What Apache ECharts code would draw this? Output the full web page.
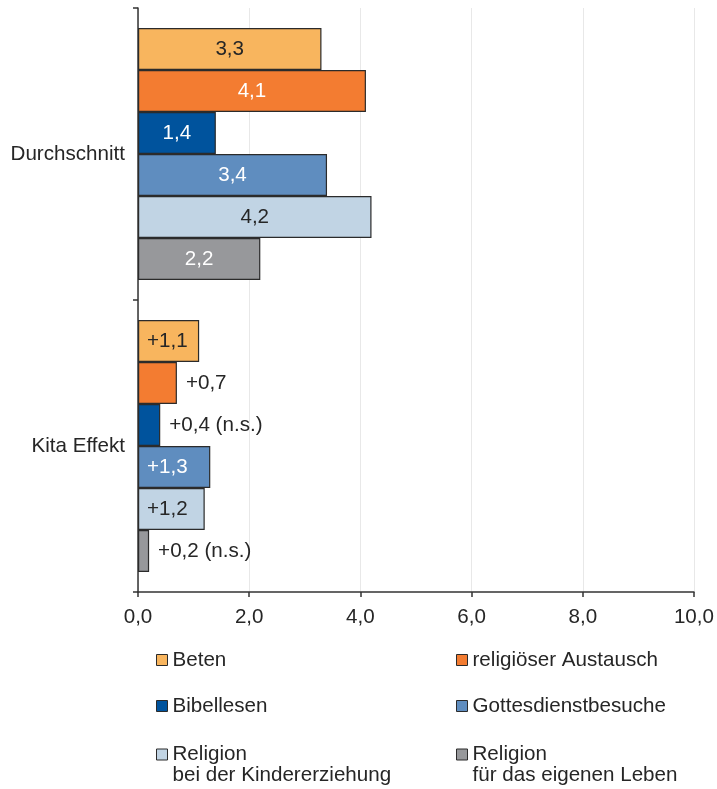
<!DOCTYPE html>
<html>
<head>
<meta charset="utf-8">
<script src="https://cdn.jsdelivr.net/npm/echarts@6/dist/echarts.min.js"></script>
<style>
  html, body { margin: 0; padding: 0; background: #fff; }
  #chart { width: 717px; height: 789px; }
</style>
</head>
<body>
<div id="chart"></div>
<script>
// Categories on the vertical axis (top to bottom)
const categories = ['Durchschnitt', 'Kita Effekt'];

// Series names (legend text)
const seriesNames = [
  'Beten',
  'religiöser Austausch',
  'Bibellesen',
  'Gottesdienstbesuche',
  'Religion\nbei der Kindererziehung',
  'Religion\nfür das eigenen Leben'
];

// Average values per series
const averageValues = [3.3, 4.1, 1.4, 3.4, 4.2, 2.2];
// Kita effect per series
const kitaEffectValues = [1.1, 0.7, 0.4, 1.3, 1.2, 0.2];
// Whether the Kita effect is statistically significant
const kitaSignificant = [true, true, false, true, true, false];

// X axis ticks
const xMin = 0, xMax = 10, xStep = 2;

const colors = ['#F8B55E', '#F37C31', '#00539D', '#5F8DBF', '#C1D4E4', '#97989B'];
const insideLabelColors = ['#262626', '#ffffff', '#ffffff', '#ffffff', '#262626', '#ffffff'];

const FONT = "'Liberation Sans', Arial, sans-serif";
const FS = 20.6;
const TEXT = '#262626';

const fmt = v => v.toFixed(1).replace('.', ',');

const series = seriesNames.map((name, i) => {
  const kv = kitaEffectValues[i];
  const inside = kv >= 1;
  const kitaLabel = '+' + fmt(kv) + (kitaSignificant[i] ? '' : ' (n.s.)');
  return {
    name,
    type: 'bar',
    barWidth: 42,
    barGap: '0%',
    itemStyle: { color: colors[i], borderColor: '#2b2b2b', borderWidth: 1.2 },
    label: { show: true, fontFamily: FONT, fontSize: FS },
    data: [
      {
        value: averageValues[i],
        label: { position: 'inside', color: insideLabelColors[i], formatter: p => fmt(p.value) }
      },
      {
        value: kv,
        label: inside
          ? { position: 'insideLeft', distance: 9, color: insideLabelColors[i], formatter: () => kitaLabel }
          : { position: 'right', distance: 9, color: TEXT, formatter: () => kitaLabel }
      }
    ]
  };
});

// One legend block per series, laid out as two columns and three rows.
// Two-line names get a leading blank line so the swatch sits beside the first line.
const legendLeft = [156, 456];
const legendTop = [649, 695, 723];
const legends = seriesNames.map((name, i) => {
  const row = Math.floor(i / 2), col = i % 2;
  const multi = name.indexOf('\n') >= 0;
  return {
    data: [name],
    left: legendLeft[col],
    top: legendTop[row],
    padding: 0,
    itemWidth: 11,
    itemHeight: 11,
    icon: 'rect',
    formatter: multi ? (n => '\n' + n) : (n => n),
    itemStyle: { borderColor: '#2b2b2b', borderWidth: 1 },
    textStyle: { fontFamily: FONT, fontSize: FS, color: TEXT, lineHeight: multi ? 21 : 22 }
  };
});

const chart = echarts.init(document.getElementById('chart'), null, { renderer: 'canvas' });
chart.setOption({
  animation: false,
  backgroundColor: '#ffffff',
  grid: { left: 138, right: 22, top: 8, bottom: 197, containLabel: false },
  legend: legends,
  xAxis: {
    type: 'value',
    min: xMin, max: xMax, interval: xStep,
    axisLine: { show: true, lineStyle: { color: '#333', width: 1.5 } },
    axisTick: { show: true, length: 5, lineStyle: { color: '#333', width: 1.5 } },
    axisLabel: { fontFamily: FONT, fontSize: FS, color: TEXT, margin: 15, formatter: v => fmt(v) },
    splitLine: { show: true, lineStyle: { color: '#e8e8e8', width: 1 } }
  },
  yAxis: {
    type: 'category',
    data: categories,
    inverse: true,
    axisLine: { show: true, lineStyle: { color: '#333', width: 1.5 } },
    axisTick: { show: true, length: 5, lineStyle: { color: '#333', width: 1.5 } },
    axisLabel: { fontFamily: FONT, fontSize: FS, color: TEXT, margin: 13 }
  },
  series
});
</script>
</body>
</html>
